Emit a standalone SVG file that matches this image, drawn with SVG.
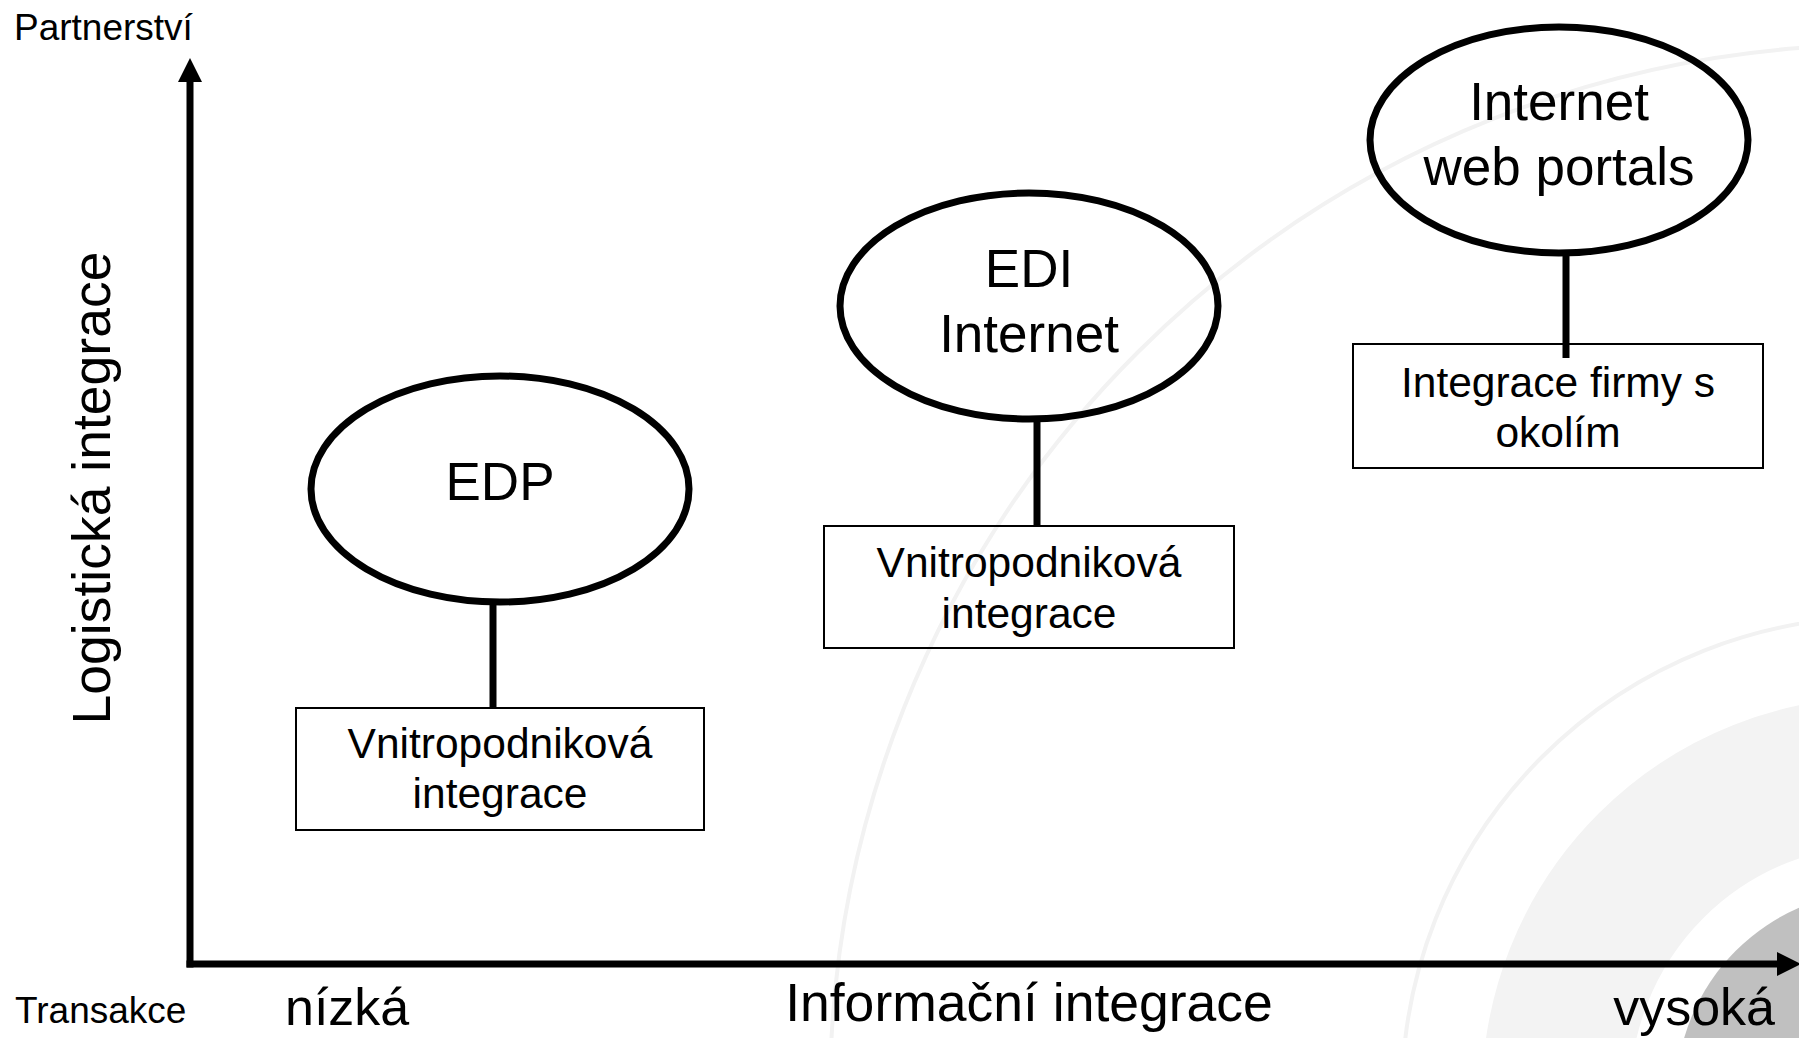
<svg xmlns="http://www.w3.org/2000/svg" width="1799" height="1038" viewBox="0 0 1799 1038">
  <style>
    text { font-family: "Liberation Sans", Arial, sans-serif; fill: #000; }
    .ell { fill: none; stroke: #000; stroke-width: 7; }
    .box { fill: none; stroke: #000; stroke-width: 2; }
    .conn { stroke: #000; stroke-width: 7; fill: none; }
    .axis { stroke: #000; stroke-width: 7; fill: none; }
    .big { font-size: 53px; text-anchor: middle; }
    .mid { font-size: 42.5px; text-anchor: middle; }
    .lab { font-size: 53px; }
    .small { font-size: 37px; }
  </style>
  <defs>
    <marker id="arrow" markerUnits="userSpaceOnUse" markerWidth="24" markerHeight="24" refX="0" refY="12" orient="auto" overflow="visible">
      <path d="M0,0 L24,12 L0,24 z" fill="#000"/>
    </marker>
  </defs>
  <rect width="1799" height="1038" fill="#fff"/>
  <g id="background">
    <circle cx="1880" cy="1095" r="1050" fill="none" stroke="#f2f2f2" stroke-width="4"/>
    <circle cx="1880" cy="1095" r="478" fill="none" stroke="#f2f2f2" stroke-width="4"/>
    <circle cx="1880" cy="1095" r="324" fill="none" stroke="#f3f3f3" stroke-width="148"/>
    <circle cx="1880" cy="1095" r="204" fill="#c0c0c0"/>
  </g>
  <g id="axes">
    <path class="axis" d="M190,967.5 V82" marker-end="url(#arrow)"/>
    <path class="axis" d="M186.5,964 H1777" marker-end="url(#arrow)"/>
    <text class="small" x="14" y="40">Partnerství</text>
    <text class="small" x="15" y="1023">Transakce</text>
    <text class="lab" x="285" y="1025" style="font-size:52px">nízká</text>
    <text class="lab" x="1029" y="1021" text-anchor="middle" style="font-size:53.5px">Informační integrace</text>
    <text class="lab" x="1775" y="1025" text-anchor="end" style="font-size:52px">vysoká</text>
    <text class="lab" transform="translate(110,488) rotate(-90)" text-anchor="middle" style="font-size:53.5px">Logistická integrace</text>
  </g>
  <g id="connectors">
    <line class="conn" x1="493" y1="602" x2="493" y2="708"/>
    <line class="conn" x1="1037" y1="419" x2="1037" y2="526"/>
    <line class="conn" x1="1566" y1="253" x2="1566" y2="358"/>
  </g>
  <g id="node-edp">
    <ellipse class="ell" cx="500" cy="489" rx="189" ry="113"/>
    <text class="big" x="500" y="500">EDP</text>
  </g>
  <g id="node-edp-box">
    <rect class="box" x="296" y="708" width="408" height="122"/>
    <text class="mid" x="500" y="758">Vnitropodniková</text>
    <text class="mid" x="500" y="808">integrace</text>
  </g>
  <g id="node-edi">
    <ellipse class="ell" cx="1029" cy="306" rx="189" ry="113"/>
    <text class="big" x="1029" y="287">EDI</text>
    <text class="big" x="1029" y="352">Internet</text>
  </g>
  <g id="node-edi-box">
    <rect class="box" x="824" y="526" width="410" height="122"/>
    <text class="mid" x="1029" y="577">Vnitropodniková</text>
    <text class="mid" x="1029" y="628">integrace</text>
  </g>
  <g id="node-web">
    <ellipse class="ell" cx="1559" cy="140" rx="189" ry="113"/>
    <text class="big" x="1559" y="120">Internet</text>
    <text class="big" x="1559" y="185">web portals</text>
  </g>
  <g id="node-web-box">
    <rect class="box" x="1353" y="344" width="410" height="124"/>
    <text class="mid" x="1558" y="397">Integrace firmy s</text>
    <text class="mid" x="1558" y="447">okolím</text>
  </g>
</svg>
